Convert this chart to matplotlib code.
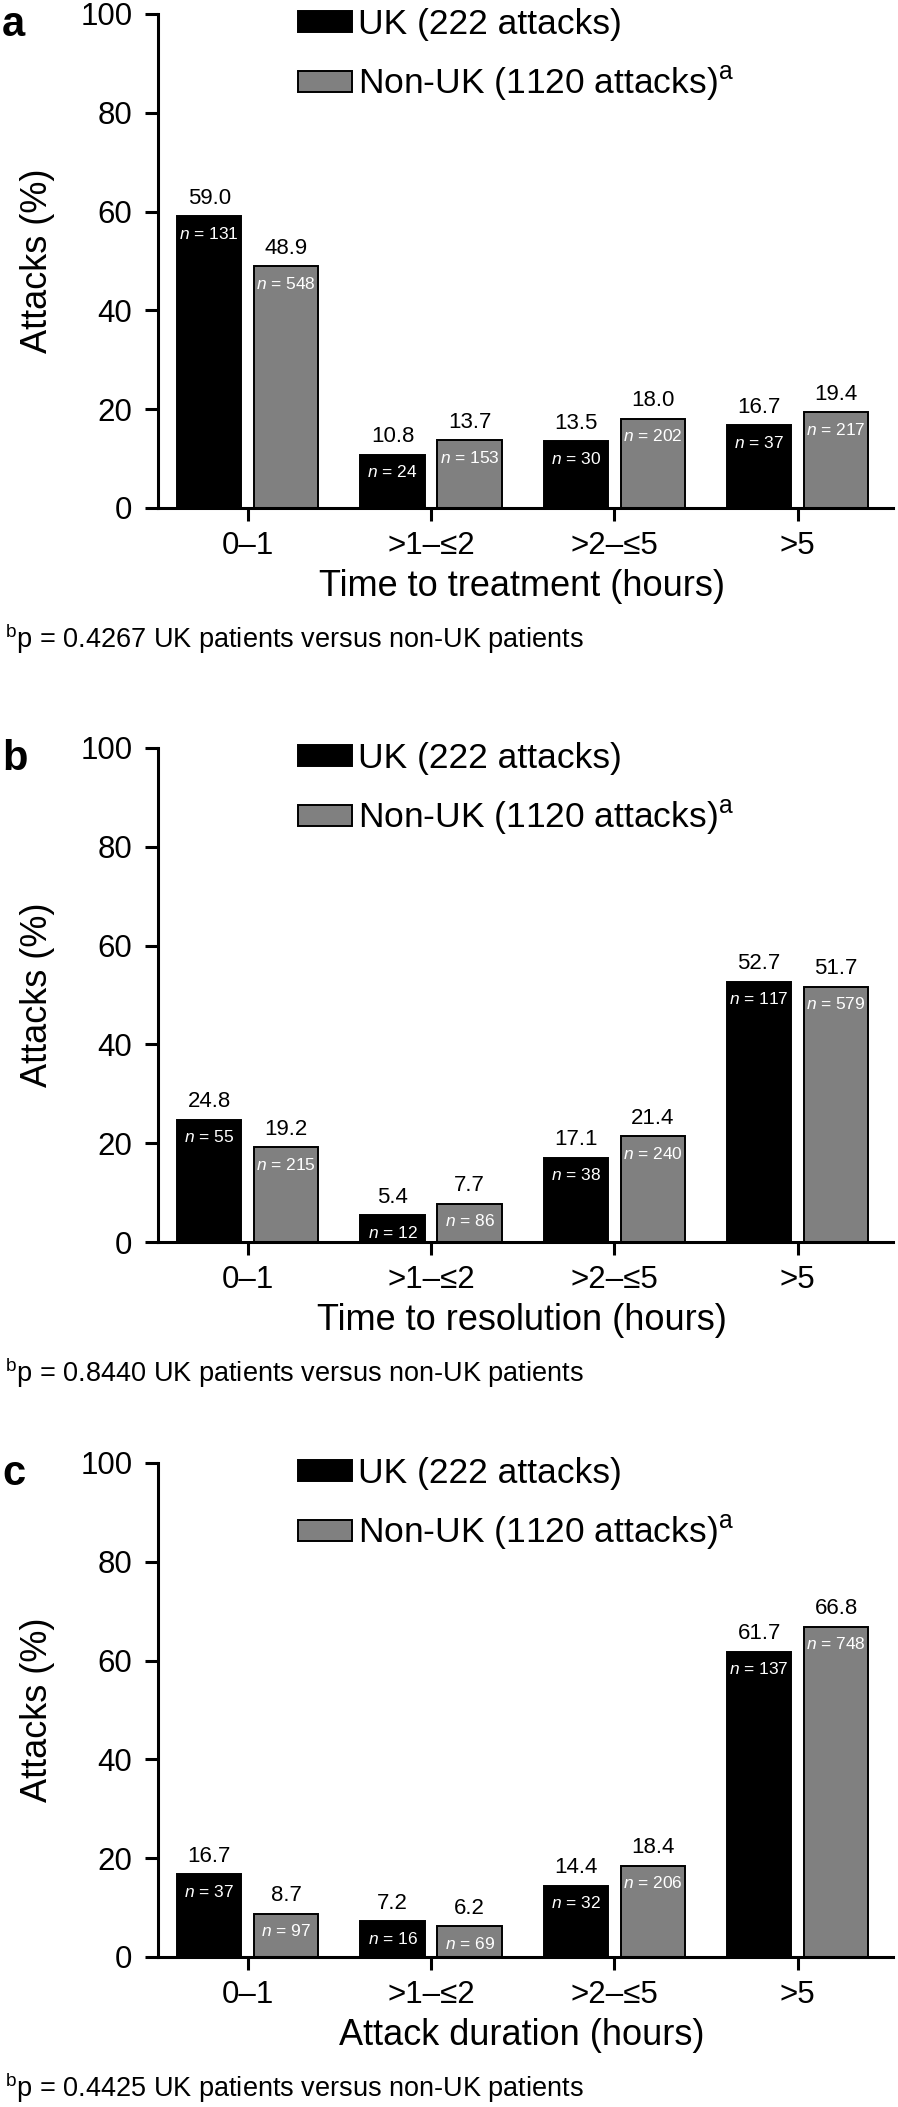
import matplotlib
matplotlib.use('Agg')
import matplotlib.pyplot as plt
import numpy as np

plt.rcParams['font.family'] = ['Liberation Sans', 'DejaVu Sans']
plt.rcParams['mathtext.fontset'] = 'custom'
plt.rcParams['mathtext.rm'] = 'Liberation Sans'
plt.rcParams['mathtext.it'] = 'Liberation Sans:italic'

# data
categories = ['0–1', '>1–≤2', '>2–≤5', '>5']
panel_letters = ['a', 'b', 'c']
x_titles = ['Time to treatment (hours)', 'Time to resolution (hours)', 'Attack duration (hours)']
p_values = ['0.4267', '0.8440', '0.4425']

uk_pct_a = [59.0, 10.8, 13.5, 16.7]
uk_n_a = [131, 24, 30, 37]
non_pct_a = [48.9, 13.7, 18.0, 19.4]
non_n_a = [548, 153, 202, 217]

uk_pct_b = [24.8, 5.4, 17.1, 52.7]
uk_n_b = [55, 12, 38, 117]
non_pct_b = [19.2, 7.7, 21.4, 51.7]
non_n_b = [215, 86, 240, 579]

uk_pct_c = [16.7, 7.2, 14.4, 61.7]
uk_n_c = [37, 16, 32, 137]
non_pct_c = [8.7, 6.2, 18.4, 66.8]
non_n_c = [97, 69, 206, 748]

uk_label = 'UK (222 attacks)'
non_label = r'Non-UK (1120 attacks)$^{\mathrm{a}}$'

panels = [
    (uk_pct_a, uk_n_a, non_pct_a, non_n_a),
    (uk_pct_b, uk_n_b, non_pct_b, non_n_b),
    (uk_pct_c, uk_n_c, non_pct_c, non_n_c),
]

fig = plt.figure(figsize=(8.98, 21.07), dpi=100)

bottoms = [0.7589, 0.4105, 0.0712]
x = np.arange(len(categories))
w = 0.35
off = 0.21

for i, (uk, uk_n, non, non_n) in enumerate(panels):
    ax = fig.add_axes([0.1759, bottoms[i], 0.8185, 0.2345])

    b1 = ax.bar(x - off, uk, w, color='black', edgecolor='black', linewidth=1.4, label=uk_label)
    b2 = ax.bar(x + off, non, w, color='#808080', edgecolor='black', linewidth=1.4, label=non_label)

    for bars, vals, ns in [(b1, uk, uk_n), (b2, non, non_n)]:
        for rect, v, n in zip(bars, vals, ns):
            cx = rect.get_x() + rect.get_width() / 2
            ax.annotate(f'{v:.1f}', xy=(cx, v), xytext=(0, 5.5), textcoords='offset points',
                        ha='center', va='bottom', fontsize=16, annotation_clip=False)
            ax.annotate(f'$n$ = {n}', xy=(cx, v), xytext=(0, -12.5), textcoords='offset points',
                        ha='center', va='center', fontsize=12.5, color='white')

    ax.set_xlim(-0.49, 3.52)
    ax.set_ylim(0, 100)
    ax.set_yticks([0, 20, 40, 60, 80, 100])
    ax.set_xticks(x)
    ax.set_xticklabels(categories)
    for s in ['top', 'right']:
        ax.spines[s].set_visible(False)
    for s in ['left', 'bottom']:
        ax.spines[s].set_linewidth(2.2)
    ax.tick_params(axis='both', direction='out', length=9.4, width=2.2, labelsize=22.5)
    ax.tick_params(axis='y', pad=9)
    ax.tick_params(axis='x', pad=7)

    ax.set_ylabel('Attacks (%)', fontsize=26)
    ax.yaxis.set_label_coords(-0.14, 0.5)
    ax.set_xlabel(x_titles[i], fontsize=26, va='top')
    ax.xaxis.set_label_coords(0.495, -0.124)

    ax.legend(loc='upper left', bbox_to_anchor=(0.19, 1.012), frameon=False, fontsize=25.5,
              handlelength=1.53, handleheight=0.54, handletextpad=0.17, labelspacing=0.66,
              borderpad=0, borderaxespad=0)

    ax.text(-0.212, 0.955, panel_letters[i], transform=ax.transAxes, fontsize=30,
            fontweight='bold', va='baseline', ha='left')
    ax.text(-0.208, -0.264, r'$^{\mathrm{b}}$p = ' + p_values[i] + ' UK patients versus non-UK patients',
            transform=ax.transAxes, fontsize=19.5, va='center', ha='left')

fig.savefig('out.png', dpi=100)
